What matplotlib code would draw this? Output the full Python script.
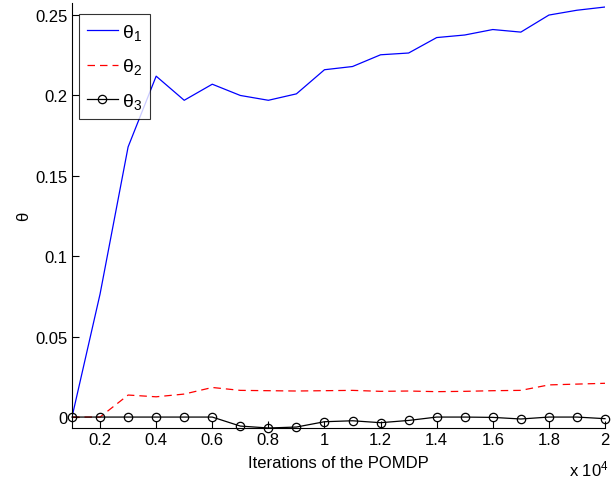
import matplotlib
matplotlib.use("Agg")
import matplotlib.pyplot as plt
from matplotlib.ticker import FuncFormatter

plt.rcParams['font.family'] = ['Liberation Sans', 'DejaVu Sans']
plt.rcParams['mathtext.fontset'] = 'custom'
plt.rcParams['mathtext.rm'] = 'Liberation Sans'
plt.rcParams['mathtext.it'] = 'Liberation Sans'

iterations = [1000, 2000, 3000, 4000, 5000, 6000, 7000, 8000, 9000, 10000,
              11000, 12000, 13000, 14000, 15000, 16000, 17000, 18000, 19000, 20000]
theta1 = [0.0, 0.0765, 0.168, 0.212, 0.197, 0.207, 0.200, 0.197, 0.201, 0.216,
          0.218, 0.2253, 0.2264, 0.236, 0.2376, 0.241, 0.2394, 0.250, 0.253, 0.255]
theta2 = [0.0, 0.0, 0.0137, 0.0126, 0.0143, 0.0184, 0.0166, 0.0164, 0.0162, 0.0164,
          0.0166, 0.016, 0.0162, 0.0158, 0.016, 0.0164, 0.0166, 0.020, 0.0205, 0.021]
theta3 = [0.0, 0.0, 0.0, 0.0, 0.0, 0.0, -0.0056, -0.0068, -0.0062, -0.0029,
          -0.0023, -0.0035, -0.0021, 0.0, 0.0, -0.0002, -0.0012, 0.0, 0.0, -0.001]
labels = [r'$\mathregular{θ_1}$', r'$\mathregular{θ_2}$', r'$\mathregular{θ_3}$']
xticks = [2000, 4000, 6000, 8000, 10000, 12000, 14000, 16000, 18000, 20000]
yticks = [0, 0.05, 0.1, 0.15, 0.2, 0.25]

fig = plt.figure(figsize=(6.13, 4.85), dpi=100)
ax = fig.add_axes([72/613, 1-429/485, 533/613, 425/485])

ax.plot(iterations, theta1, color='#0000ff', lw=0.9, label=labels[0])
ax.plot(iterations, theta2, color='#ff0000', lw=0.9, ls=(0, (6, 4)), label=labels[1])
ax.plot(iterations, theta3, color='black', lw=0.9, marker='o', ms=6,
        mfc='none', mec='black', mew=0.9, label=labels[2], clip_on=False)

ax.set_xlim(1000, 20000)
ax.set_ylim(-0.0068, 0.2575)
ax.set_xticks(xticks)
ax.xaxis.set_major_formatter(FuncFormatter(lambda v, p: f"{v/1e4:g}"))
ax.set_yticks(yticks)
ax.yaxis.set_major_formatter(FuncFormatter(lambda v, p: f"{v:g}"))
ax.tick_params(direction='in', length=5, width=0.8, labelsize=12, pad=3)
ax.spines['top'].set_visible(False)
ax.spines['right'].set_visible(False)
for s in ('left', 'bottom'):
    ax.spines[s].set_linewidth(0.8)

ax.set_xlabel('Iterations of the POMDP', fontsize=12, labelpad=6)
ax.set_ylabel('θ', fontsize=12, labelpad=3)
fig.text(0.993, 0.012, r'x 10$^{4}$', ha='right', va='bottom', fontsize=12)

leg = ax.legend(loc='upper left', bbox_to_anchor=(0.013, 0.974), borderaxespad=0,
                fontsize=14, frameon=True, fancybox=False, handlelength=1.6,
                labelspacing=0.75, borderpad=0.4, handletextpad=0.2)
leg.get_frame().set_edgecolor('black')
leg.get_frame().set_linewidth(0.8)

fig.savefig('out.png', dpi=100)
